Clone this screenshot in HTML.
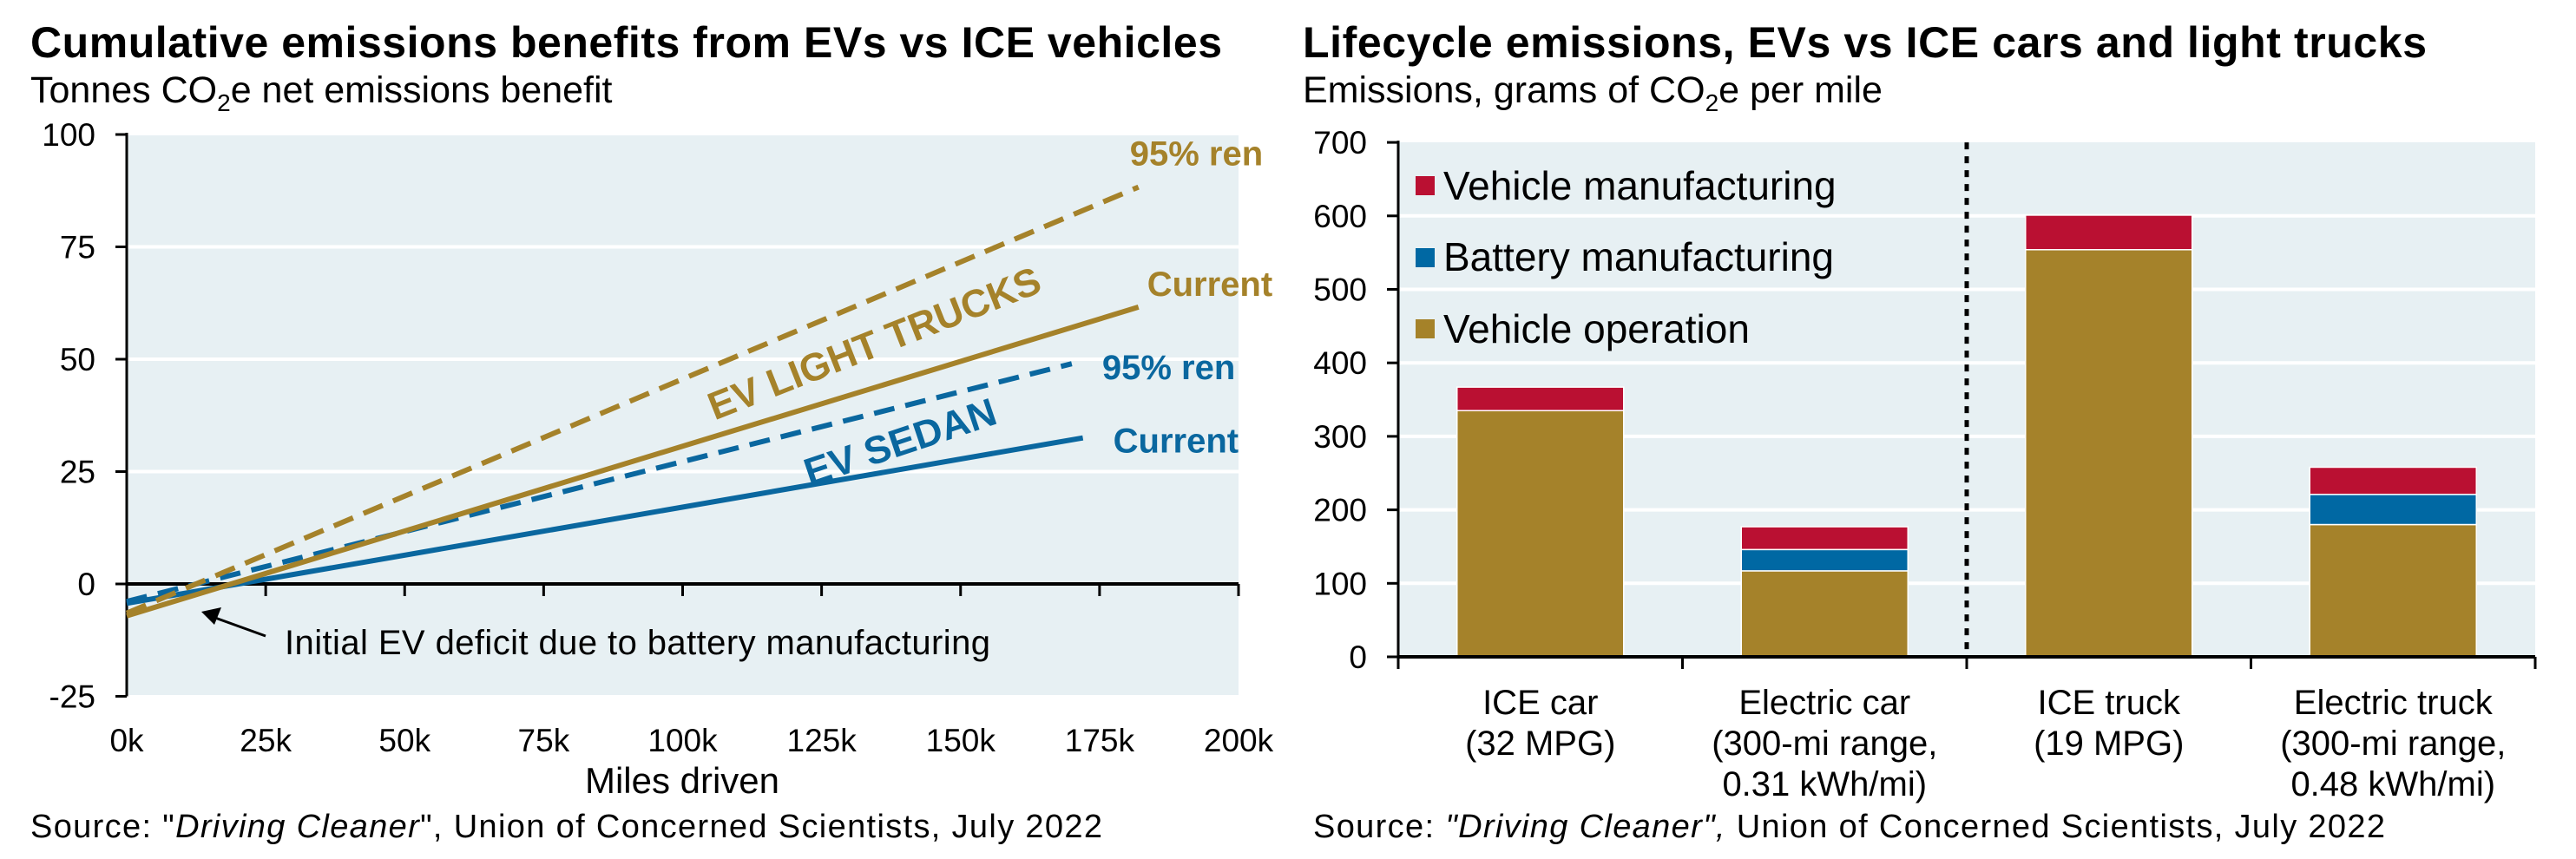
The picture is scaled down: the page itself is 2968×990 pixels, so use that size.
<!DOCTYPE html>
<html><head><meta charset="utf-8"><style>
html,body{margin:0;padding:0;background:#fff}
svg{display:block;font-family:"Liberation Sans",Arial,sans-serif}
</style></head><body>
<svg id="svg" width="2968" height="990" viewBox="0 0 2968 990" xmlns="http://www.w3.org/2000/svg">
<g id="left">
<text x="35" y="66" font-size="50" font-weight="bold" textLength="1373">Cumulative emissions benefits from EVs vs ICE vehicles</text>
<text x="35" y="118" font-size="43">Tonnes CO<tspan font-size="28" dy="10">2</tspan><tspan dy="-10">e net emissions benefit</tspan></text>
<rect x="146" y="156" width="1281" height="645" fill="#e7f0f3"/>
<g id="lgrid"></g><g id="lticks"></g><g id="llines"></g>
<text x="786" y="914" font-size="42" text-anchor="middle">Miles driven</text>
<text x="35" y="965" font-size="38" textLength="1235">Source: "<tspan font-style="italic">Driving Cleaner</tspan>", Union of Concerned Scientists, July 2022</text>
</g>
<g id="right">
<text x="1501" y="66" font-size="50" font-weight="bold" textLength="1295">Lifecycle emissions, EVs vs ICE cars and light trucks</text>
<text x="1501" y="118" font-size="43">Emissions, grams of CO<tspan font-size="28" dy="10">2</tspan><tspan dy="-10">e per mile</tspan></text>
<rect x="1611" y="164" width="1310" height="593" fill="#e7f0f3"/>
<g id="rgrid"></g><g id="rbars"></g><g id="raxes"></g>
<g>
<rect x="1631" y="203" width="22" height="22" fill="#ba1032"/>
<text x="1663" y="230" font-size="46">Vehicle manufacturing</text>
<rect x="1631" y="286" width="22" height="22" fill="#0068a3"/>
<text x="1663" y="312" font-size="46">Battery manufacturing</text>
<rect x="1631" y="368" width="22" height="22" fill="#a58229"/>
<text x="1663" y="395" font-size="46">Vehicle operation</text>
</g>
<text x="1513" y="965" font-size="38" textLength="1235">Source: <tspan font-style="italic">"Driving Cleaner",</tspan> Union of Concerned Scientists, July 2022</text>
</g>
</svg>
<script>
// ---- Left chart data ----
const lyTicks = [100, 75, 50, 25, 0, -25];
const lxTicks = [0, 25, 50, 75, 100, 125, 150, 175, 200];
const lxTickLabels = ["0k","25k","50k","75k","100k","125k","150k","175k","200k"];
const sedanCurrentMiles = [0, 172];
const sedanCurrentVals = [-4.3, 32.5];
const sedan95Miles = [0, 170];
const sedan95Vals = [-3.9, 49];
const truckCurrentMiles = [0, 182];
const truckCurrentVals = [-7.1, 61.6];
const truck95Miles = [0, 182];
const truck95Vals = [-6.5, 88.3];
// ---- Right chart data ----
const categories = [["ICE car","(32 MPG)"],["Electric car","(300-mi range,","0.31 kWh/mi)"],["ICE truck","(19 MPG)"],["Electric truck","(300-mi range,","0.48 kWh/mi)"]];
const vehicleOperation = [335, 117, 554, 180];
const batteryManufacturing = [0, 29, 0, 41];
const vehicleManufacturing = [32, 31, 47, 37];
const ryTicks = [0, 100, 200, 300, 400, 500, 600, 700];

const NS = "http://www.w3.org/2000/svg";
function mk(tag, attrs, parent, txt){const e=document.createElementNS(NS,tag);for(const k in attrs)e.setAttribute(k,attrs[k]);if(txt!==undefined)e.textContent=txt;parent.appendChild(e);return e;}

// left scales
const lx = v => 146 + (v/200)*1281;
const ly = v => 673 - v*5.18;
const lgrid = document.getElementById('lgrid'), lticks=document.getElementById('lticks'), llines=document.getElementById('llines');
lyTicks.forEach(t=>{
  if(t>0 && t<100){const g=mk('line',{x1:146,x2:1427,y1:ly(t),y2:ly(t),stroke:'#fff','stroke-width':4},lgrid);
  
  }
  const tk=mk('line',{x1:133,x2:146,y1:ly(t),y2:ly(t),stroke:'#000','stroke-width':3},lticks);
  
  
  const lb=mk('text',{x:110,y:ly(t)+13,'font-size':37,'text-anchor':'end'},lticks,String(t));
  
  
});
const yax=mk('line',{x1:146,x2:146,y1:ly(100)-2,y2:ly(-25),stroke:'#000','stroke-width':3},lticks);


lxTicks.forEach((t,i)=>{
  if(t>0){const tk=mk('line',{x1:lx(t),x2:lx(t),y1:ly(0),y2:ly(0)+14,stroke:'#000','stroke-width':3},lticks);
  
  }
  const lb=mk('text',{x:lx(t),y:866,'font-size':37,'text-anchor':'middle'},lticks,lxTickLabels[i]);
  
  
});
const zl=mk('line',{x1:146,x2:1427,y1:ly(0),y2:ly(0),stroke:'#000','stroke-width':4},lticks);


function series(m,v,color,dash,name){
  const d=m.map((x,i)=>(i?'L':'M')+lx(x)+' '+ly(v[i])).join(' ');
  const a={d:d,stroke:color,'stroke-width':6,fill:'none'};
  if(dash)a['stroke-dasharray']='24 13';
  const p=mk('path',a,llines);
  
  
  return p;
}
const GOLD='#a5822a', BLUE='#0a679f';
series(sedanCurrentMiles,sedanCurrentVals,BLUE,false,'sedan-current-line');
series(sedan95Miles,sedan95Vals,BLUE,true,'sedan-95-ren-line');
series(truckCurrentMiles,truckCurrentVals,GOLD,false,'truck-current-line');
series(truck95Miles,truck95Vals,GOLD,true,'truck-95-ren-line');
function lbl(x,y,txt,color,size,name,rot){
  const a={x:x,y:y,'font-size':size,'font-weight':'bold',fill:color};
  if(rot!==undefined){a.transform='rotate('+rot+' '+x+' '+y+')';a['text-anchor']='middle';}
  const t=mk('text',a,llines,txt);
  
  
}
const e1=truck95Miles.length-1, e2=truckCurrentMiles.length-1, e3=sedan95Miles.length-1, e4=sedanCurrentMiles.length-1;
lbl(lx(truck95Miles[e1])-10,ly(truck95Vals[e1])-25,'95% ren',GOLD,40,'truck-95-ren-label');
lbl(lx(truckCurrentMiles[e2])+10,ly(truckCurrentVals[e2])-13,'Current',GOLD,40,'truck-current-label');
lbl(lx(sedan95Miles[e3])+35,ly(sedan95Vals[e3])+18,'95% ren',BLUE,40,'sedan-95-ren-label');
lbl(lx(sedanCurrentMiles[e4])+35,ly(sedanCurrentVals[e4])+17,'Current',BLUE,40,'sedan-current-label');
lbl(1013,410,'EV LIGHT TRUCKS',GOLD,45,'ev-light-trucks-label',-21.5);
lbl(1042,524,'EV SEDAN',BLUE,45,'ev-sedan-label',-18.5);
const ann=mk('text',{x:328,y:754,'font-size':40,textLength:813},llines,'Initial EV deficit due to battery manufacturing');


const arr=mk('line',{x1:306,y1:733,x2:248,y2:712,stroke:'#000','stroke-width':3},llines);


const ah=mk('polygon',{points:'232,705 255,700 247,720',fill:'#000'},llines);



// right chart
const rx0=1611, rw=1310, cw=rw/categories.length, bw=192;
const ry = v => 757 - v*0.847;
const rgrid=document.getElementById('rgrid'), rbars=document.getElementById('rbars'), raxes=document.getElementById('raxes');
ryTicks.forEach(t=>{
  if(t>0&&t<700){const g=mk('line',{x1:rx0,x2:rx0+rw,y1:ry(t),y2:ry(t),stroke:'#fff','stroke-width':4},rgrid);
  
  }
  const tk=mk('line',{x1:rx0-13,x2:rx0,y1:ry(t),y2:ry(t),stroke:'#000','stroke-width':3},raxes);
  
  
  const lb=mk('text',{x:1575,y:ry(t)+13,'font-size':37,'text-anchor':'end'},raxes,String(t));
  
  
});
categories.forEach((c,i)=>{
  const cx=rx0+cw*i+cw/2, x=cx-bw/2;
  let base=0;
  [[vehicleOperation,'#a5822a','vehicle-operation'],[batteryManufacturing,'#0068a3','battery-manufacturing'],[vehicleManufacturing,'#ba1032','vehicle-manufacturing']].forEach(([arr,col,nm])=>{
    const v=arr[i]; if(v<=0) return;
    const r=mk('rect',{x:x,y:ry(base+v),width:bw,height:ry(base)-ry(base+v),fill:col,stroke:'#fff','stroke-width':1.5},rbars);
    
    
    base+=v;
  });
  c.forEach((ln,j)=>{
    const t=mk('text',{x:cx,y:823+j*47,'font-size':40,'text-anchor':'middle'},raxes,ln);
    
    
  });
});
for(let i=0;i<=categories.length;i++){
  const tk=mk('line',{x1:rx0+cw*i,x2:rx0+cw*i,y1:ry(0),y2:ry(0)+14,stroke:'#000','stroke-width':3},raxes);
  
  
}
const ryax=mk('line',{x1:rx0,x2:rx0,y1:ry(700)-2,y2:ry(0),stroke:'#000','stroke-width':3},raxes);


const rxax=mk('line',{x1:rx0,x2:rx0+rw,y1:ry(0),y2:ry(0),stroke:'#000','stroke-width':4},raxes);


const dv=mk('line',{x1:rx0+rw/2,x2:rx0+rw/2,y1:ry(700),y2:ry(0),stroke:'#000','stroke-width':5,'stroke-dasharray':'8 8'},raxes);


</script>
</body></html>
